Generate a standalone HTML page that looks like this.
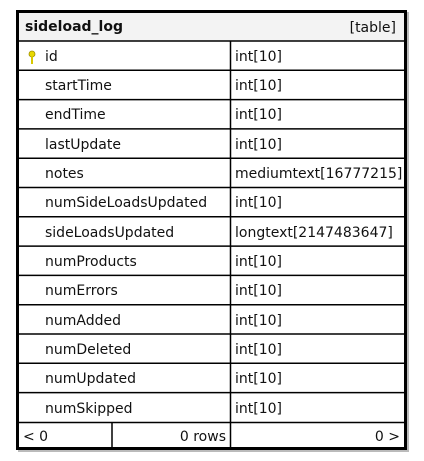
<!DOCTYPE html>
<html><head><style>
html,body{margin:0;padding:0;background:#fff;width:424px;height:461px;overflow:hidden}
svg text{font-family:"DejaVu Sans",sans-serif;font-size:14px;fill:#111}
</style></head><body>
<svg width="424" height="461" xmlns="http://www.w3.org/2000/svg">
<rect x="18" y="12" width="391" height="440" fill="#bbb"/>
<rect x="17.5" y="11.5" width="388" height="437" fill="#fff" stroke="#000" stroke-width="3"/>
<rect x="19" y="13" width="385" height="28" fill="#f3f3f3"/>
<g stroke="#000" stroke-width="1.5">
<line x1="19" y1="41" x2="404" y2="41"/>
<line x1="19" y1="70.3" x2="404" y2="70.3"/>
<line x1="19" y1="99.6" x2="404" y2="99.6"/>
<line x1="19" y1="128.9" x2="404" y2="128.9"/>
<line x1="19" y1="158.2" x2="404" y2="158.2"/>
<line x1="19" y1="187.5" x2="404" y2="187.5"/>
<line x1="19" y1="216.8" x2="404" y2="216.8"/>
<line x1="19" y1="246.1" x2="404" y2="246.1"/>
<line x1="19" y1="275.4" x2="404" y2="275.4"/>
<line x1="19" y1="304.7" x2="404" y2="304.7"/>
<line x1="19" y1="334" x2="404" y2="334"/>
<line x1="19" y1="363.3" x2="404" y2="363.3"/>
<line x1="19" y1="392.6" x2="404" y2="392.6"/>
<line x1="19" y1="422.5" x2="404" y2="422.5"/>
<line x1="230.5" y1="41" x2="230.5" y2="447"/>
<line x1="112" y1="422.5" x2="112" y2="447"/>
</g>
<text x="25" y="31" style="font-weight:bold">sideload_log</text>
<text x="396" y="32" text-anchor="end">[table]</text>
<g>
<circle cx="32" cy="54" r="3" fill="#e8d800" stroke="#a09000" stroke-width="0.8"/>
<rect x="31" y="56" width="2" height="8" fill="#d8c800"/>
</g>
<g>
<text x="45" y="61">id</text><text x="235" y="61">int[10]</text>
<text x="45" y="90">startTime</text><text x="235" y="90">int[10]</text>
<text x="45" y="119">endTime</text><text x="235" y="119">int[10]</text>
<text x="45" y="149">lastUpdate</text><text x="235" y="149">int[10]</text>
<text x="45" y="178">notes</text><text x="235" y="178">mediumtext[16777215]</text>
<text x="45" y="207">numSideLoadsUpdated</text><text x="235" y="207">int[10]</text>
<text x="45" y="237">sideLoadsUpdated</text><text x="235" y="237">longtext[2147483647]</text>
<text x="45" y="266">numProducts</text><text x="235" y="266">int[10]</text>
<text x="45" y="295">numErrors</text><text x="235" y="295">int[10]</text>
<text x="45" y="325">numAdded</text><text x="235" y="325">int[10]</text>
<text x="45" y="354">numDeleted</text><text x="235" y="354">int[10]</text>
<text x="45" y="383">numUpdated</text><text x="235" y="383">int[10]</text>
<text x="45" y="413">numSkipped</text><text x="235" y="413">int[10]</text>
<text x="23" y="441">&lt; 0</text>
<text x="226" y="441" text-anchor="end">0 rows</text>
<text x="400" y="441" text-anchor="end">0 &gt;</text>
</g>
</svg>
</body></html>
